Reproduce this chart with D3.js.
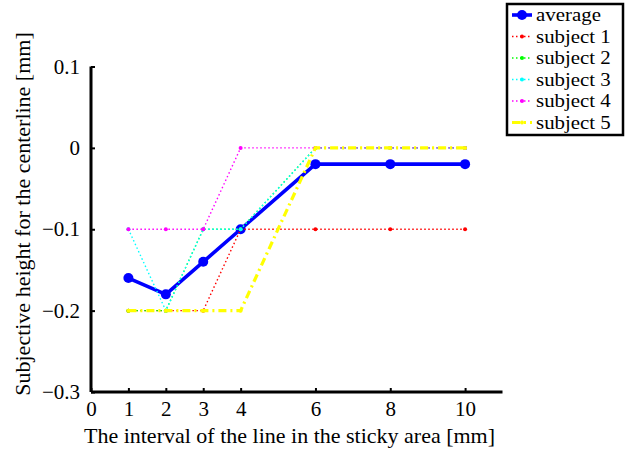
<!DOCTYPE html>
<html><head><meta charset="utf-8">
<script src="https://cdn.jsdelivr.net/npm/d3@7"></script>
<style>body{margin:0;background:#fff}svg{display:block}</style>
</head><body><svg id="c" width="629" height="450"></svg>
<script>
const xValues = [1, 2, 3, 4, 6, 8, 10];
const average = [-0.16, -0.18, -0.14, -0.10, -0.02, -0.02, -0.02];
const subject1 = [-0.2, -0.2, -0.2, -0.1, -0.1, -0.1, -0.1];
const subject2 = [-0.2, -0.2, -0.1, -0.1, 0, 0, 0];
const subject3 = [-0.1, -0.2, -0.1, -0.1, 0, 0, 0];
const subject4 = [-0.1, -0.1, -0.1, 0, 0, 0, 0];
const subject5 = [-0.2, -0.2, -0.2, -0.2, 0, 0, 0];
const xTicks = [0, 1, 2, 3, 4, 6, 8, 10];
const yTicks = [-0.3, -0.2, -0.1, 0, 0.1];
const seriesNames = ["average", "subject 1", "subject 2", "subject 3", "subject 4", "subject 5"];

const FONT = "'Liberation Serif', 'Times New Roman', Times, serif";
const svg = d3.select("#c");
const x = d3.scaleLinear().domain([0, 11]).range([91, 502.5]);
const y = d3.scaleLinear().domain([-0.3, 0.1]).range([392, 66.5]);

const styles = [
  {color: "#0000ff", width: 3.6, dash: null, r: 5},
  {color: "#ff0000", width: 1.4, dash: "1.5,2.5", r: 2},
  {color: "#00ff00", width: 1.4, dash: "1.5,2.5", r: 2},
  {color: "#00ffff", width: 1.4, dash: "1.5,2.5", r: 2},
  {color: "#ff00ff", width: 1.4, dash: "1.5,2.5", r: 2},
  {color: "#ffff00", width: 3.2, dash: "8,4,2,4", r: 2}
];
const allSeries = [average, subject1, subject2, subject3, subject4, subject5];

const line = d3.line().x((d, i) => x(xValues[i])).y(d => y(d));
allSeries.forEach((s, k) => {
  const st = styles[k];
  svg.append("path").attr("d", line(s)).attr("fill", "none")
    .attr("stroke", st.color).attr("stroke-width", st.width)
    .attr("stroke-dasharray", st.dash).attr("stroke-linejoin", "round");
  svg.selectAll(null).data(s).enter().append("circle")
    .attr("cx", (d, i) => x(xValues[i])).attr("cy", d => y(d))
    .attr("r", st.r).attr("fill", st.color);
});

// axes
const xAxis = d3.axisBottom(x).tickValues(xTicks).tickSize(-4).tickPadding(9).tickFormat(d3.format("d"));
const gx = svg.append("g").attr("transform", "translate(0,392)").call(xAxis);
const yAxis = d3.axisLeft(y).tickValues(yTicks).tickSize(-4).tickPadding(11).tickFormat(d => d === 0 ? "0" : d3.format(".1f")(d));
const gy = svg.append("g").attr("transform", "translate(91,0)").call(yAxis);
[gx, gy].forEach(g => {
  g.select(".domain").attr("stroke", "#000").attr("stroke-width", 3);
  g.selectAll(".tick line").attr("stroke", "#000").attr("stroke-width", 2);
  g.selectAll("text").style("font-family", FONT).style("font-size", "21px").attr("fill", "#000");
});
gx.select(".domain").attr("d", `M${x(0)},0H${x(11)}`);
gy.select(".domain").attr("d", `M0,${y(0.1)}V${y(-0.3)}`);

svg.append("text").attr("x", 289.5).attr("y", 443).attr("text-anchor", "middle")
  .style("font-family", FONT).style("font-size", "22px").text("The interval of the line in the sticky area [mm]");
svg.append("text").attr("transform", "translate(30,214) rotate(-90)").attr("text-anchor", "middle")
  .style("font-family", FONT).style("font-size", "22px").text("Subjective height for the centerline [mm]");

// legend
const lg = svg.append("g");
lg.append("rect").attr("x", 507).attr("y", 4).attr("width", 116).attr("height", 131)
  .attr("fill", "#fff").attr("stroke", "#000").attr("stroke-width", 2.5);
seriesNames.forEach((n, k) => {
  const st = styles[k];
  const yy = 15 + k * 21.5;
  lg.append("line").attr("x1", 512).attr("x2", 532).attr("y1", yy).attr("y2", yy)
    .attr("stroke", st.color).attr("stroke-width", st.width).attr("stroke-dasharray", st.dash);
  lg.append("circle").attr("cx", 522).attr("cy", yy).attr("r", st.r).attr("fill", st.color);
  lg.append("text").attr("transform", `translate(536,${yy + 6}) scale(1.13,1)`)
    .style("font-family", FONT).style("font-size", "18.5px").text(n);
});
</script></body></html>
